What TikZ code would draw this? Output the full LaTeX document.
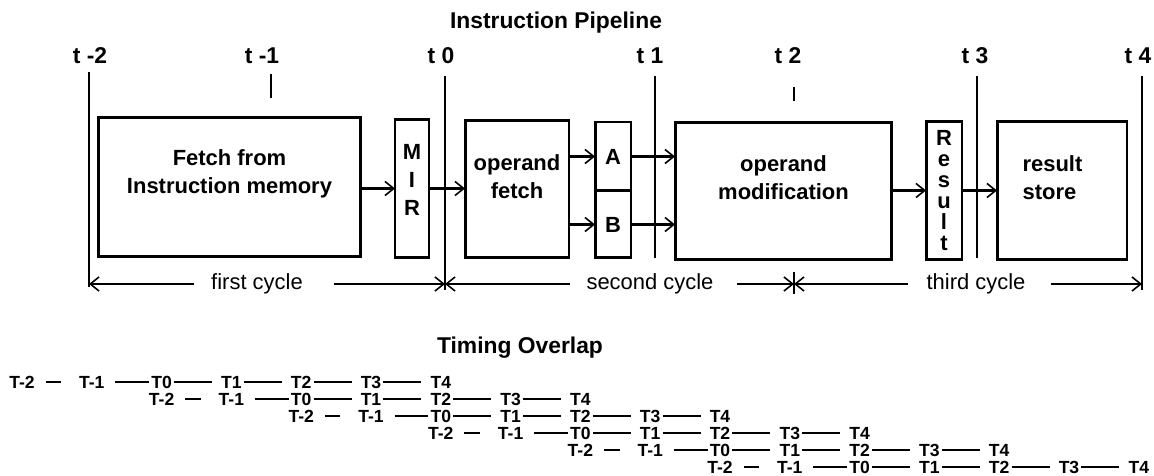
\documentclass[tikz,border=0pt]{standalone}
\usepackage{fontspec}
\setmainfont{Liberation Sans}
\usetikzlibrary{arrows.meta,positioning}

\begin{document}
\begin{tikzpicture}[x=0.02cm,y=-0.02cm,
 >={Straight Barb[length=5pt,width=8pt,line width=0.9pt]},
 box/.style={draw,line width=1.7pt,inner sep=0pt,outer sep=0pt,font=\bfseries\fontsize{12.5}{16}\selectfont},
 txt/.style={font=\bfseries\fontsize{12.5}{16}\selectfont,align=center,inner sep=0pt},
 ttl/.style={font=\bfseries\fontsize{13}{15}\selectfont},
 tlab/.style={font=\bfseries\fontsize{13}{15}\selectfont},
 tick/.style={line width=1.1pt},
 flow/.style={->,line width=1.7pt},
 cyc/.style={->,line width=1.1pt},
 clab/.style={font=\fontsize{12.5}{15}\selectfont},
 tm/.style={font=\bfseries\fontsize{10}{11}\selectfont,inner sep=1pt},
 tl/.style={line width=1.3pt}]
\useasboundingbox (0,0) rectangle (1154,476);

\node[ttl] (pipe) at (556,23) {Instruction Pipeline};

% time marks
\foreach \n/\x/\s in {m2/90/t -2,m1/262/t -1,0/441/t 0,1/650/t 1,2/788/t 2,3/975/t 3,4/1138/t 4}
 \node[tlab] (t\n) at (\x,56) {\s};
\foreach \n/\x/\a/\b in {m2/89/72/287,m1/271/74/98,0/445/76/290,1/655/76/258,2/794/87/101,3/977/76/258,4/1142/76/290}{
 \coordinate (up\n) at (\x,\a);
 \coordinate (dn\n) at (\x,\b);
 \draw[tick] (up\n) -- (dn\n);
}
\draw[tick] (794,272) -- (794,294);

% pipeline stages
\node[box,minimum width=5.26cm,minimum height=2.8cm] (fetch) at (229.5,187) {};
\node[box,minimum width=0.68cm,minimum height=2.78cm] (mir) at (412,188.5) {};
\node[box,minimum width=2.08cm,minimum height=2.76cm] (opf) at (517,189) {};
\node[box,minimum width=0.72cm,minimum height=1.38cm] (rega) at (613,156.5) {A};
\node[box,minimum width=0.72cm,minimum height=1.34cm] (regb) at (613,224.5) {B};
\node[box,minimum width=4.34cm,minimum height=2.76cm] (opmod) at (783.5,191) {};
\node[box,minimum width=0.72cm,minimum height=2.78cm] (res) at (944,190.5) {};
\node[box,minimum width=2.6cm,minimum height=2.78cm] (store) at (1062,190.5) {};

\node[txt] (fetchtxt) at ([yshift=0.26cm]fetch.center) {Fetch from\\Instruction memory};
\node[txt] (mirtxt) at ([yshift=0.17cm]mir.center) {M\\I\\R};
\node[txt] (opftxt) at ([yshift=0.24cm]opf.center) {operand\\fetch};
\node[txt] (opmodtxt) at ([yshift=0.26cm]opmod.center) {operand\\modification};
\node[txt,font=\bfseries\fontsize{12.5}{12}\selectfont] (restxt) at (res.center) {R\\e\\s\\u\\l\\t};
\node[txt,align=left] (storetxt) at ([xshift=-0.19cm,yshift=0.25cm]store.center) {result\\store};

\draw[flow] (fetch.east |- mir) -- (mir.west);
\draw[flow] (mir.east) -- (mir.east -| opf.west);
\draw[flow] (opf.east |- rega) -- (rega.west);
\draw[flow] (opf.east |- regb) -- (regb.west);
\draw[flow] (rega.east) -- (rega.east -| opmod.west);
\draw[flow] (regb.east) -- (regb.east -| opmod.west);
\draw[flow] (opmod.east |- res) -- (res.west);
\draw[flow] (res.east) -- (res.east -| store.west);

% cycles
\node[clab] (first) at (257,284) {first cycle};
\draw[cyc,shorten <=6pt] (first.west) -- (upm2 |- first);
\draw[cyc,shorten <=14pt] (first.east) -- (up0 |- first);
\node[clab] (second) at (650,284) {second cycle};
\draw[cyc,shorten <=6pt] (second.west) -- (up0 |- second);
\draw[cyc,shorten <=10pt] (second.east) -- (up2 |- second);
\node[clab] (third) at (976,284) {third cycle};
\draw[cyc,shorten <=7pt] (third.west) -- (up2 |- third);
\draw[cyc,shorten <=11pt] (third.east) -- (up4 |- third);

% timing overlap
\node[ttl] (overlap) at (520,348) {Timing Overlap};
\foreach \r in {0,...,5}{
 \foreach \k/\s in {0/T-2,1/T-1,2/T0,3/T1,4/T2,5/T3,6/T4}
  \node[tm] (T\r\k) at ({22+69.8*(\k+2*\r)},{382+17*\r}) {\s};
 \draw[tl,shorten <=5pt,shorten >=9pt] (T\r0) -- (T\r1);
 \draw[tl,shorten <=5pt] (T\r1) -- (T\r2);
 \foreach \k [evaluate=\k as \j using int(\k+1)] in {2,...,5}
  \draw[tl,shorten >=4pt] (T\r\k) -- (T\r\j);
}
\end{tikzpicture}
\end{document}
